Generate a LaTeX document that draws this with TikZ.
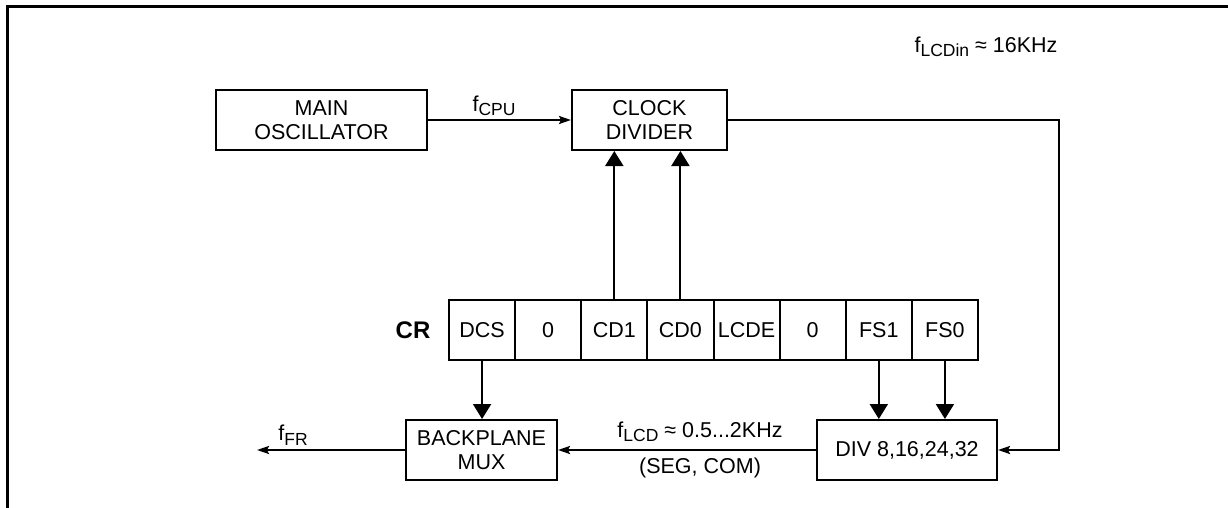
\documentclass[tikz,border=0pt]{standalone}
\usepackage{fontspec}
\setmainfont{Liberation Sans}
\usetikzlibrary{arrows.meta}
\newcommand{\sbs}[1]{\raisebox{-0.4ex}{\fontsize{17.5}{17.5}\selectfont #1}}
\begin{document}
\begin{tikzpicture}[x=1pt,y=-1pt,
  every node/.style={font=\fontsize{21.5}{24.5}\selectfont},
  blk/.style={draw,line width=2pt,minimum height=60pt,inner sep=0pt,align=center},
  cell/.style={draw,line width=2pt,minimum width=66.125pt,minimum height=60pt,inner sep=0pt},
  conn/.style={line width=2pt},
  small/.style={conn,-{Stealth[length=12pt,width=8pt,inset=2pt]}},
  big/.style={conn,-{Triangle[length=15pt,width=18pt]}},
  lbl/.style={inner sep=0pt}
]
\useasboundingbox (0,0) rectangle (1228,508);
\draw[line width=3pt] (7,508) -- (7,7) -- (1228,7);

\node[blk,minimum width=211pt] (osc) at (321.5,120) {MAIN\\OSCILLATOR};
\node[blk,minimum width=155pt] (clk) at (649.5,120) {CLOCK\\DIVIDER};
\node[blk,minimum width=151pt] (bp) at (481.5,450) {BACKPLANE\\MUX};
\node[blk,minimum width=180pt] (div) at (907,450) {DIV 8,16,24,32};

\foreach \i/\t in {1/DCS,2/0,3/CD1,4/CD0,5/LCDE,6/0,7/FS1,8/FS0}{
  \node[cell] (c\i) at ({449+66.125*(\i-0.5)},330) {\t};
}
\node[lbl,font=\fontsize{24}{27}\selectfont\bfseries] (cr) at (413,330) {CR};

\coordinate (cornerA) at (1059,120);
\coordinate (cornerB) at (1059,450);
\coordinate (ffr) at (257,450);

\draw[small] (osc.east) -- (clk.west);
\draw[small] (clk.east) -- (cornerA) -- (cornerB) -- (div.east);
\draw[small] (div.west) -- (bp.east);
\draw[small] (bp.west) -- (ffr);

\draw[big] (c3.north) -- (c3.north |- clk.south);
\draw[big] (c4.north) -- (c4.north |- clk.south);
\draw[big] (c1.south) -- (c1.south |- bp.north);
\draw[big] (c7.south) -- (c7.south |- div.north);
\draw[big] (c8.south) -- (c8.south |- div.north);

\node[lbl] (fcpu) at (494,106) {f\sbs{CPU}};
\node[lbl] (flcdin) at (986,47) {f\sbs{LCDin} ≈ 16KHz};
\node[lbl] (flcd) at (700,432) {f\sbs{LCD} ≈ 0.5...2KHz};
\node[lbl] (segcom) at (700,468) {(SEG, COM)};
\node[lbl] (ffrl) at (293,435) {f\sbs{FR}};
\end{tikzpicture}
\end{document}
